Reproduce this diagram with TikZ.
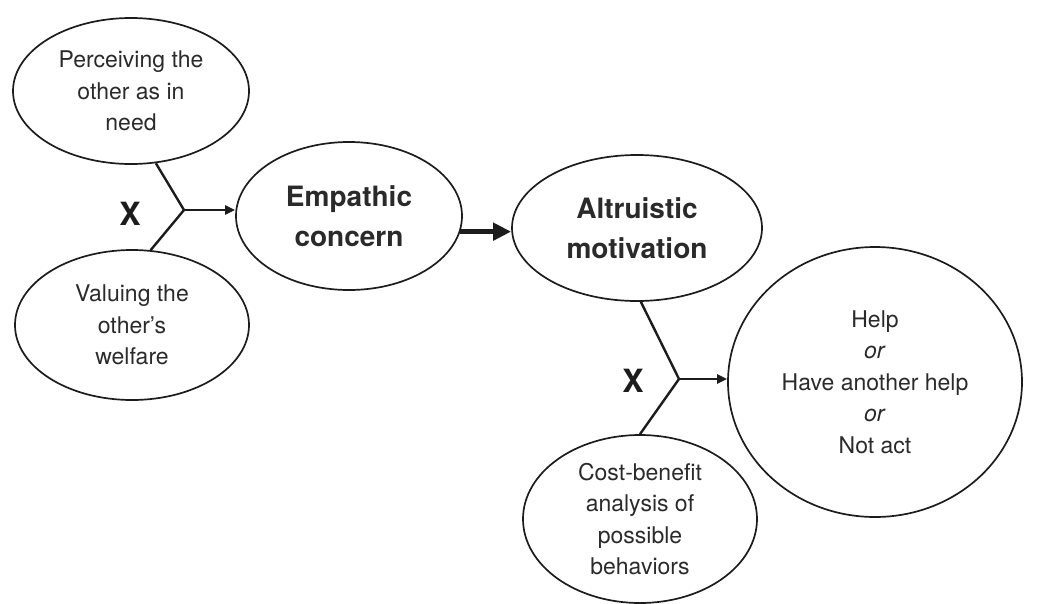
\documentclass[tikz,border=0pt]{standalone}
\usepackage{fontspec}
\setmainfont{TeX Gyre Heros}
\usetikzlibrary{shapes.geometric,arrows.meta}
\definecolor{ink}{HTML}{1C1C1C}
\definecolor{txt}{HTML}{2A2A2A}
\begin{document}
\begin{tikzpicture}[x=1pt,y=-1pt,
  oval/.style={draw=ink, line width=1.7pt, ellipse, inner sep=0pt, align=center, text=txt},
  plain/.style={font=\fontsize{23}{31.5}\selectfont},
  heavy/.style={font=\fontsize{28}{40}\selectfont\bfseries},
  times/.style={font=\fontsize{32}{32}\selectfont\bfseries, text=ink, inner sep=0pt},
  link/.style={draw=ink, line width=2.4pt, line join=miter},
  tip/.style={-{Triangle[length=10pt,width=9pt]}},
  bigtip/.style={draw=ink, line width=4.8pt, -{Triangle[length=18pt,width=17pt]}}
]
\useasboundingbox (0,0) rectangle (1044,603);

% the six ovals
\node[oval,plain,minimum width=236pt,minimum height=146pt] (perc) at (131,91)
  {Perceiving the\\other as in\\need};
\node[oval,plain,minimum width=234pt,minimum height=150pt] (val) at (132,325)
  {Valuing the\\other's\\welfare};
\node[oval,heavy,minimum width=226pt,minimum height=148pt] (emp) at (349,216)
  {Empathic\\concern};
\node[oval,heavy,minimum width=250pt,minimum height=146pt] (alt) at (637,228)
  {Altruistic\\motivation};
\node[oval,plain,minimum width=294pt,minimum height=270pt] (help) at (875,382)
  {Help\\\textit{or}\\Have another help\\\textit{or}\\Not act};
\node[oval,plain,minimum width=234pt,minimum height=168pt] (cost) at (640,519)
  {Cost-benefit\\analysis of\\possible\\behaviors};

% junction points where two factors combine
\coordinate (j1) at (184,210);
\coordinate (j2) at (679,379);
\node[times] (x1) at (130,214) {X};
\node[times] (x2) at (633,381) {X};

% connectors
\draw[link] (perc.-71) -- (j1) -- (val.76);
\draw[link,tip] (j1) -- (j1 -| emp.west);
\draw[link] (alt.-87) -- (j2) -- (cost.north);
\draw[link,tip] (j2) -- (j2 -| help.west);
\draw[bigtip] (emp.-8) -- (emp.-8 -| alt.west);
\end{tikzpicture}
\end{document}
